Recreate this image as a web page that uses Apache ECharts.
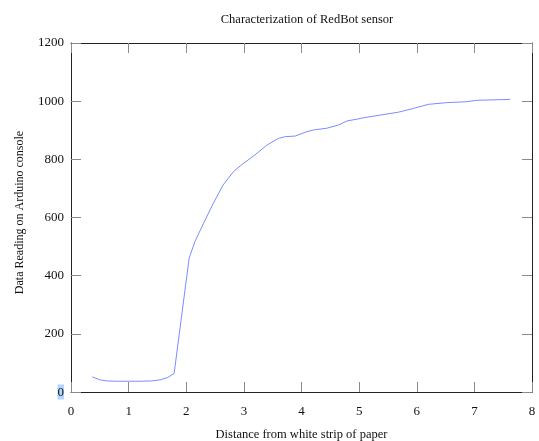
<!DOCTYPE html>
<html>
<head>
<meta charset="utf-8">
<script src="https://cdn.jsdelivr.net/npm/echarts@6/dist/echarts.min.js"></script>
<style>html,body{margin:0;padding:0;background:#fff;}#c{width:539px;height:441px;}</style>
</head>
<body>
<div id="c"></div>
<script>
var distances = [0.37, 0.5, 0.62, 0.8, 1.0, 1.2, 1.4, 1.55, 1.68, 1.79, 2.05, 2.15, 2.30, 2.47, 2.64, 2.82, 2.96, 3.19, 3.40, 3.60, 3.72, 3.89, 4.09, 4.21, 4.44, 4.64, 4.79, 4.96, 5.08, 5.36, 5.68, 5.94, 6.20, 6.52, 6.87, 7.04, 7.62];
var readings  = [52, 42, 38, 37, 37, 37, 38, 42, 50, 64, 460, 517, 580, 649, 712, 758, 781, 815, 849, 872, 878, 880, 895, 901, 907, 918, 932, 938, 943, 952, 962, 975, 989, 995, 998, 1003, 1006];
var xTicks = [0, 1, 2, 3, 4, 5, 6, 7, 8];
var yTicks = [0, 200, 400, 600, 800, 1000, 1200];

var serif = '"Liberation Serif", "DejaVu Serif", serif';
var points = distances.map(function (d, i) { return [d, readings[i]]; });

var chart = echarts.init(document.getElementById('c'), null, {renderer: 'canvas'});
var tickStyle = {show: true, inside: true, length: 10, lineStyle: {color: '#8a8a8a', width: 1}};
var lineStyle = {show: true, onZero: false, lineStyle: {color: '#222', width: 1}};
chart.setOption({
  animation: false,
  backgroundColor: '#fff',
  title: {
    text: 'Characterization of RedBot sensor',
    left: 302, top: 8, textAlign: 'center',
    textStyle: {fontFamily: serif, fontSize: 12.5, fontWeight: 'normal', color: '#111'}
  },
  grid: {left: 71, right: 7, top: 43, bottom: 49, containLabel: false, outerBoundsMode: 'none'},
  xAxis: [{
    type: 'value', min: xTicks[0], max: xTicks[xTicks.length - 1], interval: 1,
    position: 'bottom',
    name: 'Distance from white strip of paper', nameLocation: 'middle', nameGap: 36,
    nameTextStyle: {fontFamily: serif, fontSize: 12.5, color: '#111'},
    axisLine: lineStyle, axisTick: tickStyle,
    axisLabel: {fontFamily: serif, fontSize: 13, color: '#111', margin: 13},
    splitLine: {show: false}
  }, {
    type: 'value', min: xTicks[0], max: xTicks[xTicks.length - 1], interval: 1,
    position: 'top', axisLine: lineStyle, axisTick: tickStyle,
    axisLabel: {show: false}, splitLine: {show: false}
  }],
  yAxis: [{
    type: 'value', min: yTicks[0], max: yTicks[yTicks.length - 1], interval: 200,
    position: 'left',
    name: 'Data Reading on Arduino console', nameLocation: 'middle', nameGap: 45, nameRotate: 90,
    nameTextStyle: {fontFamily: serif, fontSize: 12, color: '#111', padding: [0, 0, 0, 10]},
    axisLine: lineStyle, axisTick: tickStyle,
    axisLabel: {
      fontFamily: serif, fontSize: 13, color: '#111', margin: 7,
      formatter: function (v) { return v === 0 ? '{hl|0}' : String(v); },
      rich: {hl: {backgroundColor: '#b4d5fe', fontFamily: serif, fontSize: 13, color: '#111', lineHeight: 14, padding: [2, 0, 0, 0]}}
    },
    splitLine: {show: false}
  }, {
    type: 'value', min: yTicks[0], max: yTicks[yTicks.length - 1], interval: 200,
    position: 'right', axisLine: lineStyle, axisTick: tickStyle,
    axisLabel: {show: false}, splitLine: {show: false}
  }],
  series: [{
    type: 'line', data: points, showSymbol: false, smooth: false,
    lineStyle: {color: '#7b8cff', width: 1}
  }]
});
</script>
</body>
</html>
